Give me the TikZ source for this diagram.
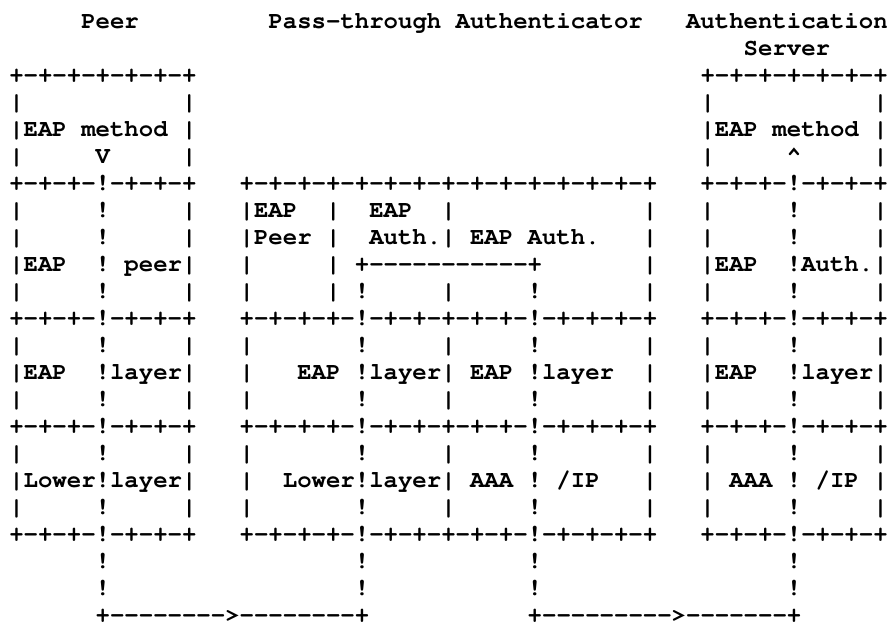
\documentclass[tikz,border=0pt]{standalone}
\usepackage[T1]{fontenc}

% monospaced cell width of the diagram font (Courier bold, 24pt: 0.6em)
\newlength\cellw
\setlength\cellw{14.4pt}
\newcommand\blankcols[1]{\hspace*{#1\cellw}}
% a run of separate hyphens, so that no dash ligature is formed
\newcommand\hyrun[1]{\foreach\hyi in {1,...,#1}{-}}
\newcommand\artfont{\fontfamily{pcr}\fontseries{b}\fontsize{24}{27}\selectfont}

% recurring lines of the three stacks
\newcommand\ruleline{+-+-+-!-+-+-+\blankcols{3}+-+-+-+-!-+-+-+-+-+-!-+-+-+-+\blankcols{3}+-+-+-!-+-+-+}
\newcommand\emptyline{|\blankcols{5}!\blankcols{5}|\blankcols{3}|\blankcols{7}!\blankcols{5}|\blankcols{5}!\blankcols{7}|\blankcols{3}|\blankcols{5}!\blankcols{5}|}

\tikzset{asciirow/.style={anchor=base west, inner sep=0pt, font=\artfont}}

\begin{document}
\begin{tikzpicture}[x=1pt,y=-1pt]
\useasboundingbox (0,0) rectangle (891,625);
\def\lx{9.1}
\def\ly#1{28.5+27.0*#1}

% headings
\node[asciirow] (row0) at (\lx,\ly{0}) {\blankcols{5}Peer\blankcols{9}Pass-through\blankcols{1}Authenticator\blankcols{3}Authentication};
\node[asciirow] (row1) at (\lx,\ly{1}) {\blankcols{51}Server};

% EAP method boxes
\node[asciirow] (row2) at (\lx,\ly{2}) {+-+-+-+-+-+-+\blankcols{35}+-+-+-+-+-+-+};
\node[asciirow] (row3) at (\lx,\ly{3}) {|\blankcols{11}|\blankcols{35}|\blankcols{11}|};
\node[asciirow] (row4) at (\lx,\ly{4}) {|EAP\blankcols{1}method\blankcols{1}|\blankcols{35}|EAP\blankcols{1}method\blankcols{1}|};
\node[asciirow] (row5) at (\lx,\ly{5}) {|\blankcols{5}V\blankcols{5}|\blankcols{35}|\blankcols{5}\textasciicircum\blankcols{5}|};

% EAP peer / authenticator layer
\node[asciirow] (row6) at (\lx,\ly{6}) {+-+-+-!-+-+-+\blankcols{3}+-+-+-+-+-+-+-+-+-+-+-+-+-+-+\blankcols{3}+-+-+-!-+-+-+};
\node[asciirow] (row7) at (\lx,\ly{7}) {|\blankcols{5}!\blankcols{5}|\blankcols{3}|EAP\blankcols{2}|\blankcols{2}EAP\blankcols{2}|\blankcols{13}|\blankcols{3}|\blankcols{5}!\blankcols{5}|};
\node[asciirow] (row8) at (\lx,\ly{8}) {|\blankcols{5}!\blankcols{5}|\blankcols{3}|Peer\blankcols{1}|\blankcols{2}Auth.|\blankcols{1}EAP\blankcols{1}Auth.\blankcols{3}|\blankcols{3}|\blankcols{5}!\blankcols{5}|};
\node[asciirow] (row9) at (\lx,\ly{9}) {|EAP\blankcols{2}!\blankcols{1}peer|\blankcols{3}|\blankcols{5}|\blankcols{1}+\hyrun{11}+\blankcols{7}|\blankcols{3}|EAP\blankcols{2}!Auth.|};
\node[asciirow] (row10) at (\lx,\ly{10}) {|\blankcols{5}!\blankcols{5}|\blankcols{3}|\blankcols{5}|\blankcols{1}!\blankcols{5}|\blankcols{5}!\blankcols{7}|\blankcols{3}|\blankcols{5}!\blankcols{5}|};

% EAP layer
\node[asciirow] (row11) at (\lx,\ly{11}) {\ruleline};
\node[asciirow] (row12) at (\lx,\ly{12}) {\emptyline};
\node[asciirow] (row13) at (\lx,\ly{13}) {|EAP\blankcols{2}!layer|\blankcols{3}|\blankcols{3}EAP\blankcols{1}!layer|\blankcols{1}EAP\blankcols{1}!layer\blankcols{2}|\blankcols{3}|EAP\blankcols{2}!layer|};
\node[asciirow] (row14) at (\lx,\ly{14}) {\emptyline};

% lower layer
\node[asciirow] (row15) at (\lx,\ly{15}) {\ruleline};
\node[asciirow] (row16) at (\lx,\ly{16}) {\emptyline};
\node[asciirow] (row17) at (\lx,\ly{17}) {|Lower!layer|\blankcols{3}|\blankcols{2}Lower!layer|\blankcols{1}AAA\blankcols{1}!\blankcols{1}/IP\blankcols{3}|\blankcols{3}|\blankcols{1}AAA\blankcols{1}!\blankcols{1}/IP\blankcols{1}|};
\node[asciirow] (row18) at (\lx,\ly{18}) {\emptyline};
\node[asciirow] (row19) at (\lx,\ly{19}) {\ruleline};

% links between the stacks
\node[asciirow] (row20) at (\lx,\ly{20}) {\blankcols{6}!\blankcols{17}!\blankcols{11}!\blankcols{17}!};
\node[asciirow] (row21) at (\lx,\ly{21}) {\blankcols{6}!\blankcols{17}!\blankcols{11}!\blankcols{17}!};
\node[asciirow] (row22) at (\lx,\ly{22}) {\blankcols{6}+\hyrun{8}>\hyrun{8}+\blankcols{11}+\hyrun{9}>\hyrun{7}+};
\end{tikzpicture}
\end{document}
